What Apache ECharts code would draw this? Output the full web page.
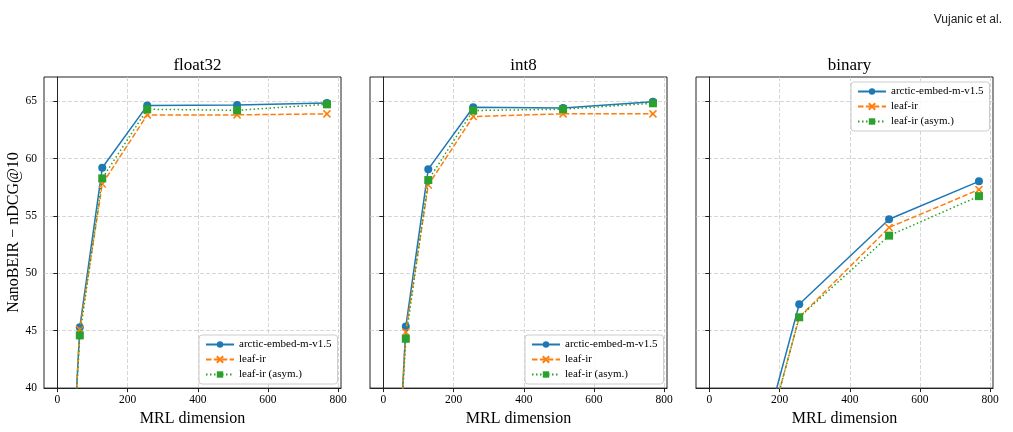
<!DOCTYPE html>
<html>
<head>
<meta charset="utf-8">
<script src="https://cdn.jsdelivr.net/npm/echarts@6/dist/echarts.min.js"></script>
<style>
  html, body { margin: 0; padding: 0; background: #fff; }
  #chart { width: 1013px; height: 432px; }
</style>
</head>
<body>
<div id="chart"></div>
<script>
// MRL dimensions (x)
const dims = [32, 64, 128, 256, 512, 768];
const panelTitles = ['float32', 'int8', 'binary'];
const seriesNames = ['arctic-embed-m-v1.5', 'leaf-ir', 'leaf-ir (asym.)'];

// NanoBEIR nDCG@10 (values below 40 fall outside the axis)
const float32Arctic = [26.4, 45.31, 59.19, 64.61, 64.66, 64.83];
const float32Leaf = [27.0, 45.10, 57.78, 63.80, 63.80, 63.89];
const float32Asym = [27.5, 44.59, 58.27, 64.29, 64.20, 64.72];

const int8Arctic = [26.2, 45.36, 59.07, 64.46, 64.40, 64.95];
const int8Leaf = [26.8, 44.88, 57.69, 63.66, 63.89, 63.89];
const int8Asym = [27.2, 44.30, 58.12, 64.18, 64.29, 64.81];

const binaryArctic = [14.5, 22.0, 32.7, 47.31, 54.71, 58.01];
const binaryLeaf = [14.0, 21.0, 31.7, 46.17, 53.99, 57.29];
const binaryAsym = [13.8, 20.8, 31.6, 46.17, 53.28, 56.72];

const xTicks = [0, 200, 400, 600, 800];
const yTicks = [40, 45, 50, 55, 60, 65];

const panelData = [
    [float32Arctic, float32Leaf, float32Asym],
    [int8Arctic, int8Leaf, int8Asym],
    [binaryArctic, binaryLeaf, binaryAsym]
];

const serif = 'Liberation Serif';
const colors = ['#1f77b4', '#ff7f0e', '#2ca02c'];
const lineTypes = ['solid', [5.5, 2.4], [1.5, 2.5]];
const symbols = ['circle', 'path://M0,0L10,10M10,0L0,10', 'rect'];
const symbolSizes = [8, 7, 8];

const gridLefts = [44, 370, 696];
const gridWidth = 297;
const gridTop = 77;
const gridHeight = 315;

const chart = echarts.init(document.getElementById('chart'));

const grids = [], xAxes = [], yAxes = [], titles = [], legends = [], series = [];

gridLefts.forEach((left, p) => {
    grids.push({
        left: left, top: gridTop, width: gridWidth, height: gridHeight,
        show: true, borderColor: '#222', borderWidth: 1, backgroundColor: 'transparent'
    });
    xAxes.push({
        type: 'value', gridIndex: p, min: -38, max: 808, splitNumber: 5,
        name: 'MRL dimension', nameLocation: 'middle', nameGap: 19,
        nameTextStyle: {fontFamily: serif, fontSize: 16, color: '#000'},
        axisLine: {show: true, onZero: false, lineStyle: {color: '#222', width: 1}},
        axisTick: {show: true, inside: false, length: 4, lineStyle: {color: '#222'}, customValues: xTicks},
        axisLabel: {
            fontFamily: serif, fontSize: 11.5, color: '#000', margin: 6,
            customValues: xTicks
        },
        splitLine: {show: true, lineStyle: {color: '#cccccc', type: [4, 2], width: 0.8}}
    });
    yAxes.push({
        type: 'value', gridIndex: p, min: 40, max: 67.1, interval: 5,
        name: p === 0 ? 'NanoBEIR − nDCG@10' : '',
        nameLocation: 'middle', nameGap: 21,
        nameTextStyle: {fontFamily: serif, fontSize: 16, color: '#000'},
        axisLine: {show: true, lineStyle: {color: '#222', width: 1}},
        axisTick: {show: true, inside: false, length: 4, lineStyle: {color: '#222'}, customValues: yTicks},
        axisLabel: {
            show: p === 0, fontFamily: serif, fontSize: 11.5, color: '#000', margin: 7,
            customValues: yTicks
        },
        splitLine: {show: true, lineStyle: {color: '#cccccc', type: [4, 2], width: 0.8}}
    });
    titles.push({
        text: panelTitles[p], left: left + gridWidth / 2, top: 52, textAlign: 'center',
        textStyle: {fontFamily: serif, fontSize: 17, fontWeight: 'normal', color: '#000'}
    });
    const legendPos = p === 2 ? {left: 851, top: 82} : {left: left + 155, top: 335};
    legends.push(Object.assign({
        data: seriesNames, orient: 'vertical',
        backgroundColor: 'rgba(255,255,255,0.85)', borderColor: '#cccccc', borderWidth: 1,
        borderRadius: 3, padding: [4, 6, 4, 6], itemGap: 4, itemWidth: 28, itemHeight: 8,
        textStyle: {fontFamily: serif, fontSize: 11, color: '#000'},
        selectedMode: false
    }, legendPos));

    panelData[p].forEach((vals, s) => {
        series.push({
            name: seriesNames[s], type: 'line', xAxisIndex: p, yAxisIndex: p,
            data: dims.map((d, i) => [d, vals[i]]),
            clip: true,
            symbol: symbols[s], symbolSize: symbolSizes[s], showSymbol: true,
            lineStyle: {color: colors[s], width: 1.5, type: lineTypes[s]},
            itemStyle: {color: colors[s], borderColor: colors[s], borderWidth: s === 1 ? 1.5 : 0},
            emphasis: {disabled: true},
            animation: false,
            z: 3 + s
        });
    });
});

titles.push({
    text: 'Vujanic et al.', right: 6, top: 9,
    textStyle: {fontFamily: 'Liberation Sans Narrow, Liberation Sans', fontSize: 12, fontWeight: 'normal', color: '#222'}
});

chart.setOption({
    animation: false,
    title: titles,
    legend: legends,
    grid: grids,
    xAxis: xAxes,
    yAxis: yAxes,
    series: series
});
</script>
</body>
</html>
